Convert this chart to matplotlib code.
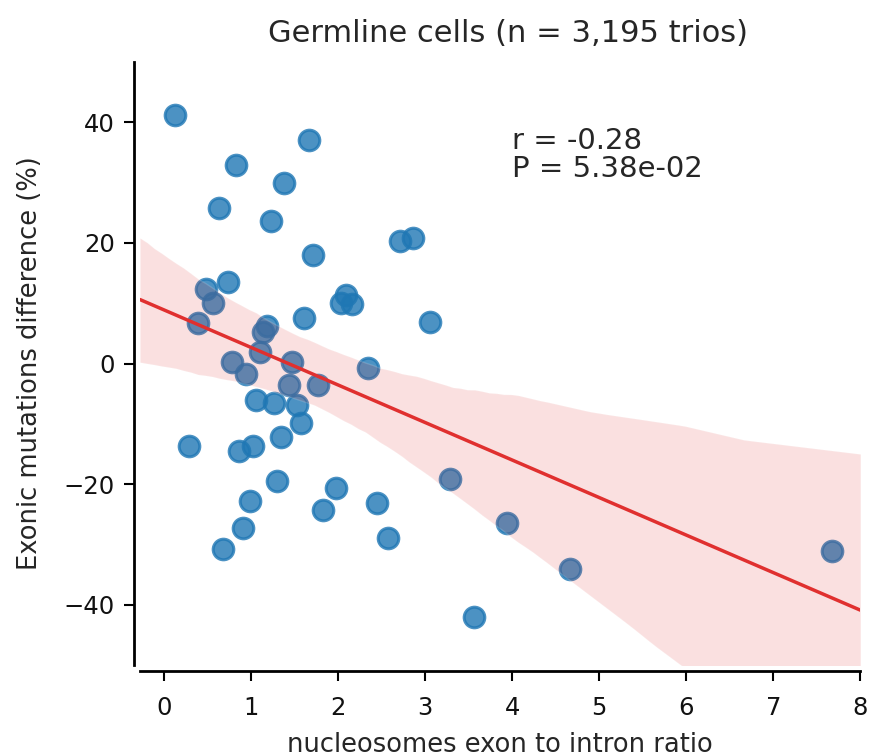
import numpy as np
import matplotlib
matplotlib.use("Agg")
import matplotlib.pyplot as plt
import seaborn as sns

# nucleosome exon/intron ratio vs exonic mutation difference, one point per gene set
ratio = [0.12, 1.66, 0.83, 1.38, 0.63, 1.23, 2.71, 2.86, 1.71, 0.73,
         0.48, 0.56, 1.61, 2.09, 2.03, 2.16, 3.05, 0.39, 1.18, 1.14,
         1.10, 0.78, 1.47, 0.94, 2.34, 1.43, 1.77, 1.06, 1.26, 1.52,
         1.57, 1.34, 0.28, 1.02, 0.86, 1.30, 3.28, 0.99, 1.97, 2.45,
         1.82, 0.91, 3.94, 2.57, 0.68, 4.66, 3.56, 7.67]
diff = [41.2, 37.0, 32.9, 30.0, 25.7, 23.6, 20.3, 20.8, 18.0, 13.5,
        12.4, 10.0, 7.6, 11.4, 10.1, 9.8, 6.9, 6.7, 6.3, 5.2,
        1.9, 0.2, 0.2, -1.8, -0.7, -3.6, -3.6, -6.1, -6.6, -6.8,
        -9.8, -12.2, -13.7, -13.6, -14.5, -19.4, -19.1, -22.8, -20.6, -23.1,
        -24.2, -27.3, -26.4, -28.9, -30.7, -34.1, -42.1, -31.0]

r_text = "r = -0.28"
p_text = "P = 5.38e-02"

sns.set_style("ticks")
plt.rcParams['font.family'] = ['DejaVu Sans']

fig = plt.figure(figsize=(8.69, 7.55), dpi=100)
ax = fig.add_axes([0.161, 0.119, 0.829, 0.799])
ax.set_xlim(-0.28, 8)
ax.set_ylim(-50, 50)

sns.regplot(x=np.array(ratio), y=np.array(diff), ax=ax, truncate=False, seed=7,
            color="#1f77b4",
            scatter_kws={"s": 220, "alpha": 0.8, "linewidths": 2.2},
            line_kws={"color": "#e0302f", "lw": 2.5})
# recolor the CI band
for coll in ax.collections[1:]:
    coll.set_facecolor("#e0302f")
    coll.set_alpha(0.15)

ax.set_xlim(-0.28, 8)
ax.set_ylim(-50, 50)
ax.set_xticks(range(0, 9))
ax.set_yticks([-40, -20, 0, 20, 40])
ax.tick_params(labelsize=17.5, length=7, width=1.5, colors="black")
ax.tick_params(axis="x", pad=11)
ax.tick_params(axis="y", pad=7)
ax.tick_params(labelcolor="#111111")
for s in ax.spines.values():
    s.set_linewidth(2)
    s.set_color("black")
sns.despine(ax=ax, offset=4)

ax.set_title("Germline cells (n = 3,195 trios)", fontsize=22, color="#262626", pad=14, x=0.511)
ax.set_xlabel("nucleosomes exon to intron ratio", fontsize=18.5, color="#262626", labelpad=9)
ax.set_ylabel("Exonic mutations difference (%)", fontsize=18.5, color="#262626", labelpad=15)
ax.text(0.517, 0.846, r_text + "\n" + p_text, transform=ax.transAxes, fontsize=21,
        color="#262626", va="center", linespacing=1.0)

fig.savefig("out.png", dpi=100)
